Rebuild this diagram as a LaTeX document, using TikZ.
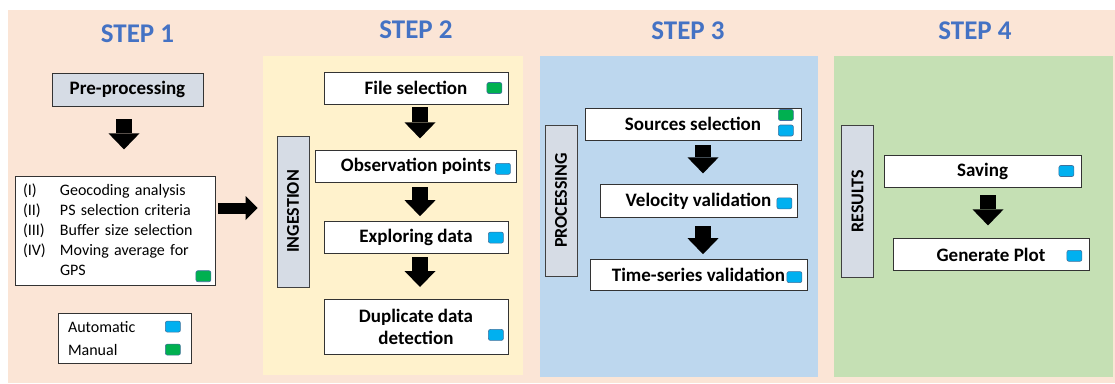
\documentclass[tikz,border=0pt]{standalone}
\usepackage{fontspec}
\setmainfont{Carlito}
\usepackage{graphicx}
\usepackage{xcolor}
\usepackage{tikz}
\usetikzlibrary{positioning,arrows.meta}

\definecolor{peach}{HTML}{FBE5D6}
\definecolor{ingestbg}{HTML}{FFF2CC}
\definecolor{procbg}{HTML}{BDD7EE}
\definecolor{resbg}{HTML}{C5E0B4}
\definecolor{barfill}{HTML}{D6DCE5}
\definecolor{autoblue}{HTML}{00B0F0}
\definecolor{mangreen}{HTML}{00B050}
\definecolor{flagline}{HTML}{41719C}
\definecolor{titleblue}{HTML}{4472C4}

\begin{document}
\begin{tikzpicture}[
    x=1pt, y=-1pt,
    box/.style={rectangle, draw=black!80, fill=white, line width=0.8pt, minimum height=32pt, inner sep=0pt, align=center, font=\bfseries\fontsize{19}{22}\selectfont},
    bar/.style={rectangle, draw=black!75, fill=barfill, line width=0.8pt, minimum width=32pt, minimum height=151pt, inner sep=0pt, font=\bfseries\fontsize{18}{20}\selectfont},
    flag/.style={rectangle, rounded corners=2pt, draw=flagline, line width=0.6pt, minimum width=15pt, minimum height=11pt, inner sep=0pt},
    blueflag/.style={flag, fill=autoblue},
    greenflag/.style={flag, fill=mangreen},
    steptitle/.style={font=\bfseries\fontsize{27}{32}\selectfont, text=titleblue},
    downarrow/.style={line width=15.5pt, -{Triangle[width=31pt, length=16pt, line width=0pt]}},
    sidearrow/.style={line width=11pt, -{Triangle[width=24pt, length=12pt, line width=0pt]}}
]
    \useasboundingbox (0,0) rectangle (1115,383);

    % backgrounds
    \fill[peach] (8,10) rectangle (1115,383);
    \fill[ingestbg] (263,56) rectangle (523,375);
    \fill[procbg] (540,56) rectangle (818,377);
    \fill[resbg] (834,56) rectangle (1113,377);

    \node[steptitle] (t1) at (137.5,34) {STEP 1};
    \node[steptitle] (t2) at (416,30) {STEP 2};
    \node[steptitle] (t3) at (688,31) {STEP 3};
    \node[steptitle] (t4) at (975,31) {STEP 4};

    % step 1
    \node[box, fill=barfill, minimum width=151pt, minimum height=33pt] (pre) at (127.5,89.5) {Pre-processing};
    \node[box, below=70pt of pre, xshift=-12.5pt, text width=184pt, inner xsep=8pt, minimum height=109pt, align=left, font=\fontsize{16}{20}\selectfont] (list) {%
        \begin{tabular}{@{}p{37pt}@{}l@{}}
        (I) & Geocoding analysis\\
        (II) & PS selection criteria\\
        (III) & Buffer size selection\\
        (IV) & Moving average for\\
         & GPS
        \end{tabular}};
    \node[greenflag] (listflag) at ([xshift=-12pt, yshift=10pt]list.south east) {};
    \node[box, below=27pt of list, xshift=9.5pt, text width=113pt, inner xsep=10pt, minimum height=50pt, align=left, font=\fontsize{16}{23}\selectfont] (legend) {Automatic\\Manual};
    \node[blueflag] (legauto) at ([xshift=-18.5pt, yshift=12pt]legend.east) {};
    \node[greenflag] (legman) at ([xshift=-18.5pt, yshift=-11pt]legend.east) {};

    \draw[downarrow, shorten <=13pt, shorten >=27pt] ([xshift=-3.5pt]pre.south) -- ([xshift=-3.5pt]pre.south |- list.north);

    % step 2
    \node[bar] (ingest) at (293,211.5) {\rotatebox{90}{INGESTION}};
    \node[box, minimum width=184pt] (file) at (416,88) {File selection};
    \node[box, minimum width=201pt, below=46pt of file] (obs) {Observation points};
    \node[box, minimum width=184pt, below=38pt of obs] (explore) {Exploring data};
    \node[box, minimum width=184pt, minimum height=55pt, below=45pt of explore] (dup) {Duplicate data\\detection};
    \node[greenflag] (fileflag) at ([xshift=-14pt]file.east) {};
    \node[blueflag] (obsflag) at ([xshift=-14pt, yshift=-2pt]obs.east) {};
    \node[blueflag] (exploreflag) at ([xshift=-12.5pt]explore.east) {};
    \node[blueflag] (dupflag) at ([xshift=-12.5pt, yshift=-8pt]dup.east) {};

    \draw[downarrow, shorten <=3pt, shorten >=12pt] ([xshift=4pt]file.south) -- ([xshift=4pt]obs.north);
    \draw[downarrow, shorten <=4pt, shorten >=5pt] ([xshift=4pt]obs.south) -- ([xshift=4pt]explore.north);
    \draw[downarrow, shorten <=3pt, shorten >=12pt] ([xshift=4pt]explore.south) -- ([xshift=4pt]dup.north);

    \coordinate (armY) at ([yshift=3.5pt]ingest.west);
    \draw[sidearrow, shorten <=3pt, shorten >=19pt] (list.east |- armY) -- (armY);

    % step 3
    \node[bar] (proc) at (561,200.5) {\rotatebox{90}{PROCESSING}};
    \node[box, minimum width=216pt] (src) at (693,124) {Sources selection};
    \node[box, minimum width=197pt, minimum height=33pt, below=44pt of src, xshift=5.5pt] (vel) {Velocity validation};
    \node[box, minimum width=217pt, minimum height=31pt, below=41pt of vel] (ts) {Time-series validation};
    \node[greenflag] (srcflagm) at ([xshift=-15.5pt, yshift=9pt]src.east) {};
    \node[blueflag] (srcflaga) at ([xshift=-15.5pt, yshift=-6.5pt]src.east) {};
    \node[blueflag] (velflag) at ([xshift=-13pt, yshift=-2pt]vel.east) {};
    \node[blueflag] (tsflag) at ([xshift=-13pt, yshift=-2pt]ts.east) {};

    \draw[downarrow, shorten <=5pt, shorten >=11pt] ([xshift=4.5pt]vel.north |- src.south) -- ([xshift=4.5pt]vel.north);
    \draw[downarrow, shorten <=8pt, shorten >=5pt] ([xshift=4.5pt]vel.south) -- ([xshift=4.5pt]ts.north);

    % step 4
    \node[bar, minimum height=152pt] (res) at (857.5,201) {\rotatebox{90}{RESULTS}};
    \node[box, minimum width=197pt] (save) at (982.5,171) {Saving};
    \node[box, minimum width=196pt, below=51pt of save, xshift=8.5pt] (plot) {Generate Plot};
    \node[blueflag] (saveflag) at ([xshift=-15pt]save.east) {};
    \node[blueflag] (plotflag) at ([xshift=-15pt, yshift=-1pt]plot.east) {};

    \draw[downarrow, shorten <=8pt, shorten >=13pt] ([xshift=5.5pt]save.south) -- ([xshift=5.5pt]save.south |- plot.north);
\end{tikzpicture}
\end{document}
